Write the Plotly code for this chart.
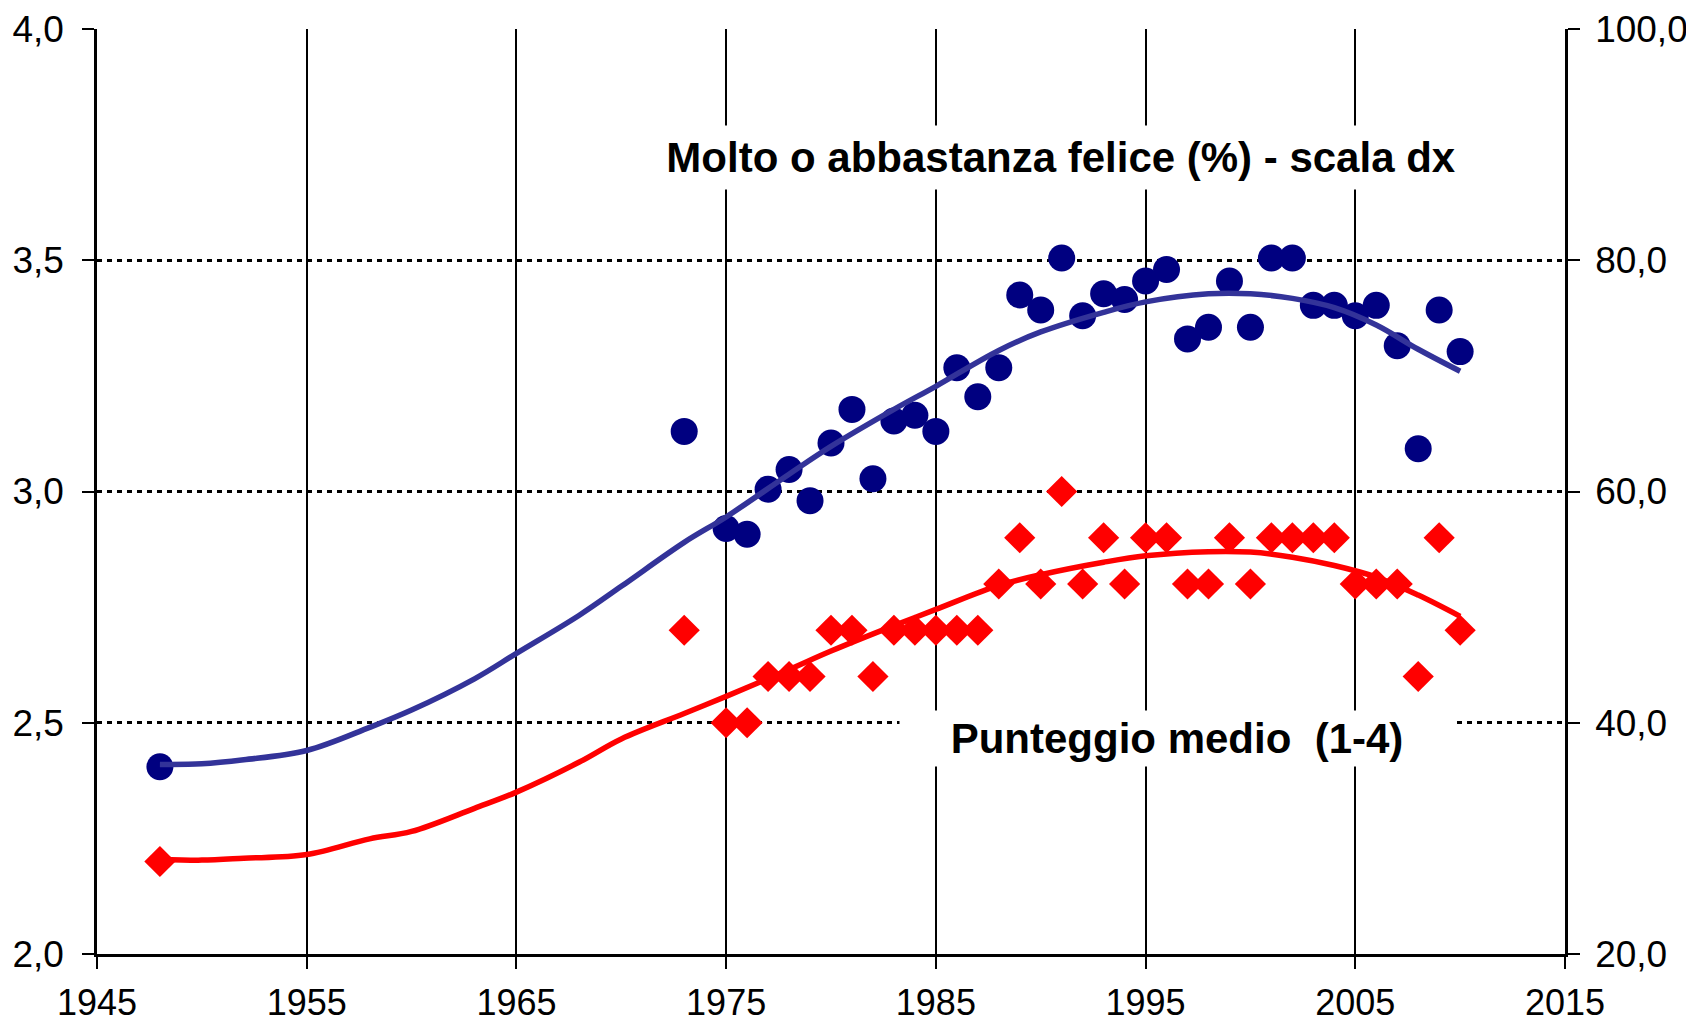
import plotly.graph_objects as go

# survey years
years = [1948, 1973, 1975, 1976, 1977, 1978, 1979, 1980, 1981, 1982, 1983, 1984,
         1985, 1986, 1987, 1988, 1989, 1990, 1991, 1992, 1993, 1994, 1995, 1996,
         1997, 1998, 1999, 2000, 2001, 2002, 2003, 2004, 2005, 2006, 2007, 2008,
         2009, 2010]

# % very or fairly happy (right axis)
felice_pct = [36.2, 65.2, 56.8, 56.3, 60.2, 61.9, 59.2, 64.2, 67.1, 61.1, 66.1, 66.6,
              65.2, 70.7, 68.2, 70.7, 77.0, 75.7, 80.2, 75.2, 77.1, 76.6, 78.2, 79.2,
              73.2, 74.2, 78.2, 74.2, 80.2, 80.2, 76.1, 76.1, 75.2, 76.1, 72.6, 63.7,
              75.7, 72.1]

# mean score 1-4 (left axis)
punteggio = [2.2, 2.7, 2.5, 2.5, 2.6, 2.6, 2.6, 2.7, 2.7, 2.6, 2.7, 2.7,
             2.7, 2.7, 2.7, 2.8, 2.9, 2.8, 3.0, 2.8, 2.9, 2.8, 2.9, 2.9,
             2.8, 2.8, 2.9, 2.8, 2.9, 2.9, 2.9, 2.9, 2.8, 2.8, 2.8, 2.6,
             2.9, 2.7]

# smoothed trends
trend_years = [1948, 1950, 1952, 1955, 1958, 1960, 1963, 1965, 1968, 1970, 1973, 1975,
               1978, 1980, 1983, 1985, 1988, 1990, 1993, 1995, 1998, 2000, 2002, 2004,
               2006, 2008, 2010]
trend_felice = [36.4, 36.45, 36.8, 37.6, 39.6, 41.1, 43.8, 46.0, 49.3, 51.8, 55.6, 57.8,
                61.5, 63.9, 67.1, 69.1, 72.2, 73.8, 75.5, 76.4, 77.1, 77.1, 76.7, 75.9,
                74.4, 72.3, 70.4]
trend_punteggio = [2.205, 2.203, 2.207, 2.215, 2.249, 2.265, 2.315, 2.35, 2.415, 2.465, 2.52, 2.557,
                   2.615, 2.655, 2.71, 2.745, 2.797, 2.82, 2.847, 2.861, 2.87, 2.869, 2.858, 2.84,
                   2.815, 2.776, 2.73]

BLUE = "#000080"
BLUE_LINE = "#333399"
RED = "#ff0000"
FONT = "Liberation Sans, Arial, sans-serif"

fig = go.Figure()
fig.add_trace(go.Scatter(x=years, y=felice_pct, yaxis="y2", mode="markers",
                         marker=dict(symbol="circle", size=27, color=BLUE),
                         name="Molto o abbastanza felice (%)"))
fig.add_trace(go.Scatter(x=years, y=punteggio, mode="markers",
                         marker=dict(symbol="diamond", size=24, color=RED),
                         name="Punteggio medio"))
fig.add_trace(go.Scatter(x=trend_years, y=trend_felice, yaxis="y2", mode="lines",
                         line=dict(color=BLUE_LINE, width=5.5, shape="spline"),
                         name="trend felice"))
fig.add_trace(go.Scatter(x=trend_years, y=trend_punteggio, mode="lines",
                         line=dict(color=RED, width=5.5, shape="spline"),
                         name="trend punteggio"))

axis_common = dict(showline=True, linecolor="black", linewidth=2.5, automargin=False,
                   ticks="outside", ticklen=12, tickwidth=2, tickcolor="black",
                   tickfont=dict(family=FONT, size=37, color="black"), zeroline=False)

# page body adds ~8px offset, margins compensate for it
fig.update_layout(
    width=1694, height=1026,
    margin=dict(l=89, r=137, t=21, b=80),
    paper_bgcolor="white", plot_bgcolor="white",
    showlegend=False,
    separators=",.",
    font=dict(family=FONT, color="black"),
    xaxis=dict(range=[1945, 2015], tick0=1945, dtick=10, ticklabelstandoff=3,
               showgrid=True, gridcolor="black", gridwidth=1.8, **axis_common),
    yaxis=dict(range=[2, 4], dtick=0.5, tickformat=".1f", ticklabelstandoff=11,
               showgrid=True, gridcolor="black", gridwidth=2.5, griddash="5px,5px",
               **axis_common),
    yaxis2=dict(range=[20, 100], dtick=20, tickformat=".1f", overlaying="y", side="right",
                ticklabelstandoff=8, showgrid=False, **axis_common),
)
fig.update_xaxes(tickfont_size=36)

fig.add_annotation(
    text="\u00a0\u00a0Molto o abbastanza felice (%) - scala dx\u00a0\u00a0",
    xref="paper", yref="paper", x=0.6564, y=0.8615, xanchor="center", yanchor="middle",
    showarrow=False, bgcolor="white", borderpad=8,
    font=dict(family=FONT, size=42, color="black", weight="bold"))
fig.add_annotation(
    text="\u00a0\u00a0\u00a0\u00a0Punteggio medio\u00a0\u00a0(1-4)\u00a0\u00a0\u00a0\u00a0",
    xref="paper", yref="paper", x=0.7354, y=0.2325, xanchor="center", yanchor="middle",
    showarrow=False, bgcolor="white", borderpad=4,
    font=dict(family=FONT, size=42, color="black", weight="bold"))

fig.write_html("out.html")
